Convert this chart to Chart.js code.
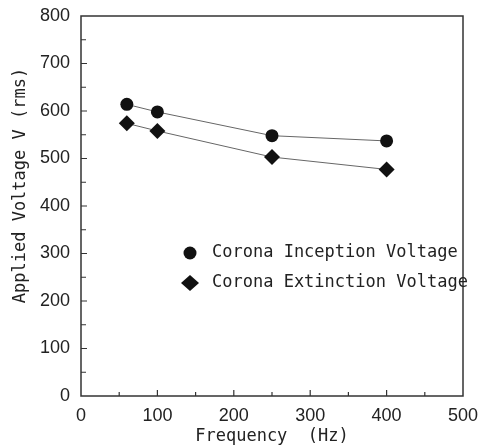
<!DOCTYPE html>
<html>
<head>
<meta charset="utf-8">
<script src="https://cdn.jsdelivr.net/npm/chart.js@4/dist/chart.umd.min.js"></script>
<style>
  html, body { margin: 0; padding: 0; background: #fff; }
  #wrap { width: 479px; height: 448px; }
</style>
</head>
<body>
<div id="wrap"><canvas id="c" width="479" height="448"></canvas></div>
<script>
const frequencies = [60, 100, 250, 400];
const inceptionVoltage = [614, 598, 548, 537];
const extinctionVoltage = [574, 558, 503, 477];
const seriesNames = ['Corona Inception Voltage', 'Corona Extinction Voltage'];
const xTicks = [0, 100, 200, 300, 400, 500];
const yTicks = [0, 100, 200, 300, 400, 500, 600, 700, 800];
const xTitle = 'Frequency  (Hz)';
const yTitle = 'Applied Voltage V (rms)';

const monoFont = "'DejaVu Sans Mono', 'Liberation Mono', monospace";
const sansFont = "'Liberation Sans', Arial, sans-serif";

const framePlugin = {
  id: 'frame',
  afterDatasetsDraw(chart) {
    const ctx = chart.ctx;
    const a = chart.chartArea;
    const xs = chart.scales.x, ys = chart.scales.y;
    ctx.save();
    ctx.strokeStyle = '#333';
    ctx.lineWidth = 1.5;
    ctx.strokeRect(a.left, a.top, a.right - a.left, a.bottom - a.top);
    ctx.lineWidth = 1.2;
    ctx.beginPath();
    for (let v = 50; v < 500; v += 50) {
      const px = xs.getPixelForValue(v);
      ctx.moveTo(px, a.bottom);
      ctx.lineTo(px, a.bottom - (v % 100 === 0 ? 6 : 4));
    }
    for (let v = 50; v < 800; v += 50) {
      const py = ys.getPixelForValue(v);
      ctx.moveTo(a.left, py);
      ctx.lineTo(a.left + (v % 100 === 0 ? 6 : 5), py);
    }
    ctx.stroke();
    // legend
    const lx = a.left + 109, ly1 = a.top + 237, ly2 = a.top + 267;
    ctx.fillStyle = '#111';
    ctx.beginPath();
    ctx.arc(lx, ly1, 6.5, 0, Math.PI * 2);
    ctx.fill();
    ctx.beginPath();
    ctx.moveTo(lx - 9, ly2); ctx.lineTo(lx, ly2 - 8); ctx.lineTo(lx + 9, ly2); ctx.lineTo(lx, ly2 + 8);
    ctx.closePath();
    ctx.fill();
    ctx.font = '17px ' + monoFont;
    ctx.textBaseline = 'middle';
    ctx.textAlign = 'left';
    ctx.fillStyle = '#222';
    ctx.fillText(seriesNames[0], lx + 22, ly1);
    ctx.fillText(seriesNames[1], lx + 22, ly2);
    ctx.restore();
  }
};

new Chart(document.getElementById('c'), {
  type: 'line',
  data: {
    datasets: [
      {
        label: seriesNames[0],
        data: frequencies.map((f, i) => ({ x: f, y: inceptionVoltage[i] })),
        borderColor: '#666', borderWidth: 1,
        pointStyle: 'circle', pointRadius: 6.5,
        pointBackgroundColor: '#111', pointBorderColor: '#111', pointBorderWidth: 0,
        tension: 0
      },
      {
        label: seriesNames[1],
        data: frequencies.map((f, i) => ({ x: f, y: extinctionVoltage[i] })),
        borderColor: '#666', borderWidth: 1,
        pointStyle: 'rectRot', pointRadius: 8,
        pointBackgroundColor: '#111', pointBorderColor: '#111', pointBorderWidth: 0,
        tension: 0
      }
    ]
  },
  options: {
    responsive: false,
    animation: false,
    devicePixelRatio: 1,
    layout: { padding: { top: 16, right: 16, left: 0, bottom: 0 } },
    plugins: { legend: { display: false }, tooltip: { enabled: false } },
    scales: {
      x: {
        type: 'linear', min: 0, max: 500,
        afterBuildTicks(s) { s.ticks = xTicks.map(v => ({ value: v })); },
        afterFit(s) { s.height = 52; s.paddingLeft = 0; s.paddingRight = 0; },
        grid: { display: false, drawTicks: false },
        border: { display: false },
        ticks: { padding: 9, color: '#222', font: { family: sansFont, size: 18 } },
        title: { display: true, text: xTitle, color: '#222', padding: { top: 0, bottom: 1 }, font: { family: monoFont, size: 17 } }
      },
      y: {
        type: 'linear', min: 0, max: 800,
        afterBuildTicks(s) { s.ticks = yTicks.map(v => ({ value: v })); },
        afterFit(s) { s.width = 81; s.paddingTop = 0; s.paddingBottom = 0; },
        grid: { display: false, drawTicks: false },
        border: { display: false },
        ticks: { padding: 11, color: '#222', font: { family: sansFont, size: 18 } },
        title: { display: true, text: '    ' + yTitle, color: '#222', padding: { top: 10, bottom: 10 }, font: { family: monoFont, size: 17 } }
      }
    }
  },
  plugins: [framePlugin]
});
</script>
</body>
</html>
